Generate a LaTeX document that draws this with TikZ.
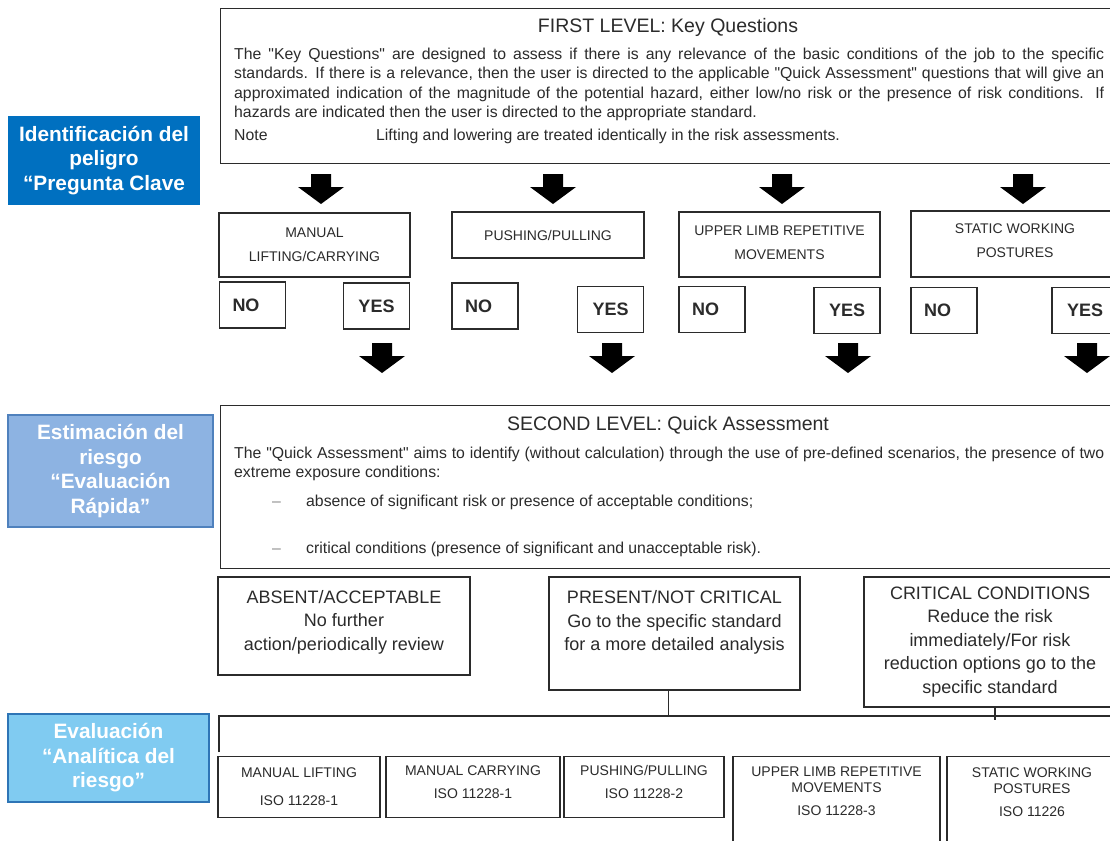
\documentclass[tikz,border=0pt]{standalone}
\usepackage{fontspec}
\setmainfont{Liberation Sans}[Ligatures=TeXOff]
\usepackage{xcolor}
\definecolor{ink}{HTML}{2B2B2B}
\definecolor{idblue}{HTML}{0070C0}
\definecolor{estblue}{HTML}{8DB3E2}
\definecolor{estedge}{HTML}{4F81BD}
\definecolor{evalblue}{HTML}{80CBF1}
\definecolor{evaledge}{HTML}{2E75B6}
\definecolor{dashgray}{HTML}{8A8A8A}
\usepackage{tikz}
\tikzset{box/.style={draw=ink,line width=1.3pt,fill=white,align=center,inner sep=0pt,text=ink},tag/.style={text=white,align=center,inner sep=0pt,font=\bfseries\fontsize{20.8}{24.5}\selectfont},txt/.style={inner sep=0pt,text=ink}}

\begin{document}
\begin{tikzpicture}[x=1pt,y=-1pt,cat/.style={box,font=\fontsize{14}{24}\selectfont},yn/.style={box,minimum width=66pt,minimum height=46pt,font=\bfseries\fontsize{18}{20}\selectfont},no/.style={yn,text width=40pt,inner xsep=13pt,align=left},outbox/.style={box,minimum width=252pt,font=\fontsize{18}{23.5}\selectfont},std/.style={box,anchor=north,minimum height=61pt,font=\fontsize{14}{16}\selectfont},body/.style={txt,anchor=north west,text width=870pt,align=justify,font=\fontsize{15.8}{19.3}\selectfont},plain/.style={txt,anchor=base west,font=\fontsize{15.8}{19.3}\selectfont},head/.style={txt,font=\fontsize{19.5}{22}\selectfont}]
\useasboundingbox (0,0) rectangle (1110,840);
\clip (0,0) rectangle (1110,840);
\node[tag,fill=idblue,minimum width=192pt,minimum height=89pt] (idtag) at (104,160.5) {Identificación del\\peligro\\“Pregunta Clave};
\node[tag,fill=estblue,draw=estedge,line width=1.5pt,minimum width=205pt,minimum height=112pt] (esttag) at (110.5,471) {Estimación del\\riesgo\\“Evaluación\\Rápida”};
\node[tag,fill=evalblue,draw=evaledge,line width=1.5pt,minimum width=201pt,minimum height=88pt] (evaltag) at (108.5,758) {Evaluación\\“Analítica del\\riesgo”};
\node[box,anchor=north west,minimum width=896pt,minimum height=155pt] (lvlone) at (220,8) {};
\node[head] (lvlonehead) at (668,27) {FIRST LEVEL: Key Questions};
\node[body] (lvlonebody) at (234,48) {The "Key Questions" are designed to assess if there is any relevance of the basic conditions of the job to the specific\linebreak standards. If there is a relevance, then the user is directed to the applicable "Quick Assessment" questions that will give an\linebreak approximated indication of the magnitude of the potential hazard, either low/no risk or the presence of risk conditions. If\linebreak hazards are indicated then the user is directed to the appropriate standard.};
\node[plain] (note) at (234,140) {Note};
\node[plain] (notetext) at (376,140) {Lifting and lowering are treated identically in the risk assessments.};
\foreach \x in {321,553,782,1023} \fill[black] (\x-10,174) -- (\x+10,174) -- (\x+10,187) -- (\x+23,187) -- (\x,204) -- (\x-23,187) -- (\x-10,187) -- cycle;
\node[cat,minimum width=191pt,minimum height=64pt] (lift) at (314.5,245) {\mbox{}\\[-14pt]MANUAL\\LIFTING/CARRYING};
\node[cat,minimum width=192pt,minimum height=46pt] (push) at (548,235) {PUSHING/PULLING};
\node[cat,minimum width=201pt,minimum height=65pt] (limb) at (779.5,244.5) {\mbox{}\\[-18pt]UPPER LIMB REPETITIVE\\MOVEMENTS};
\node[cat,minimum width=208pt,minimum height=66pt] (post) at (1015,244) {\mbox{}\\[-20pt]STATIC WORKING\\POSTURES};
\node[no] (liftno) at (252.5,305) {NO};
\node[yn] (liftyes) at (376.5,306) {YES};
\node[no] (pushno) at (485,306) {NO};
\node[yn] (pushyes) at (610.5,309.5) {YES};
\node[no] (limbno) at (712,309.5) {NO};
\node[yn] (limbyes) at (847,310.5) {YES};
\node[no] (postno) at (944,310.5) {NO};
\node[yn] (postyes) at (1085,310.5) {YES};
\foreach \x in {382,612,848,1087} \fill[black] (\x-10,343) -- (\x+10,343) -- (\x+10,356) -- (\x+23,356) -- (\x,373) -- (\x-23,356) -- (\x-10,356) -- cycle;
\node[box,anchor=north west,minimum width=896pt,minimum height=163pt] (lvltwo) at (220,405) {};
\node[head] (lvltwohead) at (668,425) {SECOND LEVEL: Quick Assessment};
\node[body] (lvltwobody) at (234,447) {The "Quick Assessment" aims to identify (without calculation) through the use of pre-defined scenarios, the presence of two\linebreak extreme exposure conditions:};
\node[plain,text=dashgray] (dashone) at (272,506) {–};
\node[plain] (itemone) at (306,506) {absence of significant risk or presence of acceptable conditions;};
\node[plain,text=dashgray] (dashtwo) at (272,553) {–};
\node[plain] (itemtwo) at (306,553) {critical conditions (presence of significant and unacceptable risk).};
\node[outbox,minimum height=98pt] (absent) at (344,626) {ABSENT/ACCEPTABLE\\No further\\action/periodically review\\[-12pt]\mbox{}};
\node[outbox,minimum width=251pt,minimum height=113pt] (present) at (674.5,633.5) {PRESENT/NOT CRITICAL\\Go to the specific standard\\for a more detailed analysis\\[2pt]\mbox{}};
\node[outbox,minimum height=130pt] (critical) at (990,642) {CRITICAL CONDITIONS\\Reduce the risk\\immediately/For risk\\reduction options go to the\\specific standard};
\coordinate (busleft) at (219,716);
\coordinate (busright) at (1116,716);
\coordinate (busdrop) at (219,752);
\draw[draw=ink,line width=1.3pt] (busdrop) -- (busleft) -- (busright);
\draw[draw=ink,line width=1.3pt] ([xshift=-6pt]present.south) -- ([xshift=-6pt]present.south |- busleft);
\draw[draw=ink,line width=1.3pt] ([xshift=5pt]critical.south) -- ([xshift=5pt]critical.south |- busleft) -- ++(0,4);
\node[std,minimum width=162pt] (isolift) at (299,756) {MANUAL LIFTING\\[12pt]ISO 11228-1};
\node[std,minimum width=174pt] (isocarry) at (473,756) {MANUAL CARRYING\\[7pt]ISO 11228-1\\[-6pt]\mbox{}};
\node[std,minimum width=160pt] (isopush) at (644,756) {PUSHING/PULLING\\[7pt]ISO 11228-2\\[-6pt]\mbox{}};
\node[std,minimum width=207pt,minimum height=100pt] (isolimb) at (836.5,756) {UPPER LIMB REPETITIVE\\MOVEMENTS\\[7pt]ISO 11228-3\\[14pt]\mbox{}};
\node[std,minimum width=170pt,minimum height=100pt] (isopost) at (1032,756) {STATIC WORKING\\POSTURES\\[7pt]ISO 11226\\[14pt]\mbox{}};
\end{tikzpicture}
\end{document}
